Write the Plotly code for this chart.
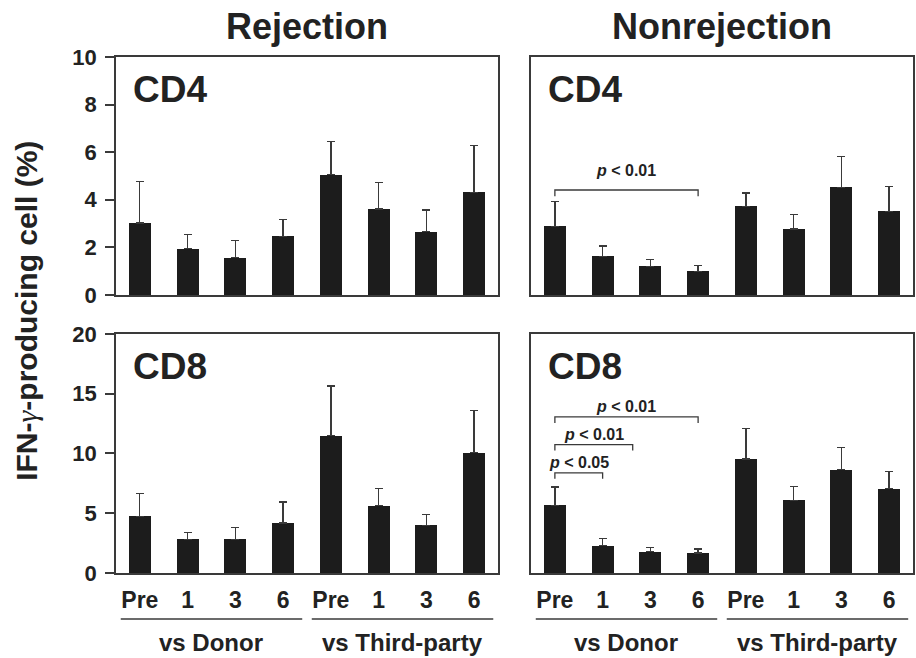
import plotly.graph_objects as go

# ---------------- data ----------------
timepoints = ["Pre", "1", "3", "6", "Pre", "1", "3", "6"]
groups = ["vs Donor", "vs Third-party"]
columns = ["Rejection", "Nonrejection"]
cell_types = ["CD4", "CD8"]

cd4_rej_mean = [3.03, 1.94, 1.57, 2.46, 5.06, 3.61, 2.66, 4.31]
cd4_rej_err = [1.75, 0.59, 0.71, 0.71, 1.39, 1.13, 0.91, 1.96]
cd4_non_mean = [2.88, 1.62, 1.20, 0.99, 3.73, 2.77, 4.53, 3.51]
cd4_non_err = [1.04, 0.44, 0.28, 0.24, 0.56, 0.60, 1.29, 1.05]
cd8_rej_mean = [4.74, 2.81, 2.81, 4.18, 11.48, 5.63, 3.98, 10.08]
cd8_rej_err = [1.89, 0.56, 1.01, 1.75, 4.17, 1.47, 0.92, 3.51]
cd8_non_mean = [5.65, 2.28, 1.78, 1.67, 9.53, 6.07, 8.66, 7.05]
cd8_non_err = [1.54, 0.59, 0.34, 0.34, 2.56, 1.14, 1.84, 1.45]

# significance brackets: (start, end, height, label)
cd4_non_brackets = [(0, 3, 4.41, "p<0.01")]
cd8_non_brackets = [(0, 1, 8.38, "p<0.05"), (0, 1.63, 10.75, "p<0.01"), (0, 3, 13.06, "p<0.01")]

cd4_range = [0, 10]
cd8_range = [0, 20]
cd4_ticks = [0, 2, 4, 6, 8, 10]
cd8_ticks = [0, 5, 10, 15, 20]

# ---------------- figure ----------------
FONT = "Liberation Sans, Arial, Helvetica, sans-serif"
TXT = "#222222"
LINE = "#3a3a3a"
BAR = "#1c1c1c"

fig = go.Figure()
xpos = list(range(len(timepoints)))

panels = [
    ("x", "y", cd4_rej_mean, cd4_rej_err),
    ("x2", "y2", cd4_non_mean, cd4_non_err),
    ("x3", "y3", cd8_rej_mean, cd8_rej_err),
    ("x4", "y4", cd8_non_mean, cd8_non_err),
]
for xa, ya, m, e in panels:
    fig.add_trace(go.Bar(
        x=xpos, y=m, xaxis=xa, yaxis=ya, width=0.46,
        marker=dict(color=BAR, line=dict(width=0)),
        error_y=dict(type="data", symmetric=False, array=e, arrayminus=[0] * len(e),
                     color=LINE, thickness=1.3, width=4),
        showlegend=False, hoverinfo="skip",
    ))

xl = [0.1266, 0.5437]
xr = [0.5797, 0.9967]
yt = [0.5517, 0.9134]
yb = [0.1292, 0.4924]

def xaxis(domain, anchor, show_labels):
    d = dict(domain=domain, anchor=anchor, range=[-0.5, 7.5], showline=True, mirror=True,
             linecolor=LINE, linewidth=1.5, showgrid=False, zeroline=False, ticks="",
             tickmode="array", tickvals=xpos, automargin=False, fixedrange=True)
    if show_labels:
        d.update(ticktext=timepoints, showticklabels=True, ticklabelstandoff=6,
                 tickfont=dict(family=FONT, size=23, color=TXT, weight="bold"))
    else:
        d.update(showticklabels=False)
    return d

def yaxis(domain, anchor, rng, tv, show_labels):
    d = dict(domain=domain, anchor=anchor, range=rng, showline=True, mirror=True,
             linecolor=LINE, linewidth=1.5, showgrid=False, zeroline=False,
             tickmode="array", tickvals=tv, automargin=False, fixedrange=True)
    if show_labels:
        d.update(ticks="outside", ticklen=9, tickwidth=1.5, tickcolor=LINE,
                 showticklabels=True, ticklabelstandoff=4,
                 tickfont=dict(family=FONT, size=22, color=TXT, weight="bold"))
    else:
        d.update(ticks="", showticklabels=False)
    return d

fig.update_layout(
    width=916, height=658, margin=dict(l=0, r=0, t=0, b=0, autoexpand=False),
    paper_bgcolor="white", plot_bgcolor="white", bargap=0,
    font=dict(family=FONT, color=TXT),
    xaxis=xaxis(xl, "y", False),
    yaxis=yaxis(yt, "x", cd4_range, cd4_ticks, True),
    xaxis2=xaxis(xr, "y2", False),
    yaxis2=yaxis(yt, "x2", cd4_range, cd4_ticks, False),
    xaxis3=xaxis(xl, "y3", True),
    yaxis3=yaxis(yb, "x3", cd8_range, cd8_ticks, True),
    xaxis4=xaxis(xr, "y4", True),
    yaxis4=yaxis(yb, "x4", cd8_range, cd8_ticks, False),
)

annotations = []
shapes = []

# column titles
for col, dom in zip(columns, [xl, xr]):
    annotations.append(dict(text=col, xref="paper", yref="paper", x=(dom[0] + dom[1]) / 2,
                            y=0.959, xanchor="center", yanchor="middle", showarrow=False,
                            font=dict(family=FONT, size=36, color=TXT, weight="bold")))

# panel labels
for (xa, ya, _, _), ct in zip(panels, [cell_types[0], cell_types[0], cell_types[1], cell_types[1]]):
    annotations.append(dict(text=ct, xref=xa + " domain", yref=ya + " domain", x=0.040, y=0.865,
                            xanchor="left", yanchor="middle", showarrow=False,
                            font=dict(family=FONT, size=37, color=TXT, weight="bold")))

# y-axis title
gamma = "<span style='font-family:Liberation Serif, serif; font-style:italic; font-weight:normal'>γ</span>"
annotations.append(dict(text="IFN-" + gamma + "-producing cell (%)", xref="paper", yref="paper",
                        x=0.029, y=0.527, textangle=-90, xanchor="center", yanchor="middle",
                        showarrow=False, font=dict(family=FONT, size=30, color=TXT, weight="bold")))

# group underlines and labels
for xa in ["x3", "x4"]:
    for gi, g in enumerate(groups):
        x0 = gi * 4 - 0.4
        x1 = gi * 4 + 3.4
        shapes.append(dict(type="line", xref=xa, yref="paper", x0=x0, x1=x1, y0=0.0593, y1=0.0593,
                           line=dict(color=LINE, width=1.5)))
        annotations.append(dict(text=g, xref=xa, yref="paper", x=gi * 4 + 1.5, y=0.0228,
                                xanchor="center", yanchor="middle", showarrow=False,
                                font=dict(family=FONT, size=24, color=TXT, weight="bold")))

# significance brackets
def add_brackets(xa, ya, brackets, drop, lab_off):
    for s, e, h, lab in brackets:
        shapes.append(dict(type="path", xref=xa, yref=ya,
                           path=f"M {s},{h - drop} L {s},{h} L {e},{h} L {e},{h - drop}",
                           line=dict(color=LINE, width=1.3)))
        txt = "<i>p</i>" + lab[1:].replace("<", " &lt; ")
        annotations.append(dict(text=txt, xref=xa, yref=ya, x=(s + e) / 2, y=h + lab_off,
                                xanchor="center", yanchor="middle", showarrow=False,
                                font=dict(family=FONT, size=16, color=TXT, weight="bold")))

add_brackets("x2", "y2", cd4_non_brackets, 0.26, 0.83)
add_brackets("x4", "y4", cd8_non_brackets, 0.5, 0.88)

fig.update_layout(annotations=annotations, shapes=shapes)
fig.write_html("out.html")
